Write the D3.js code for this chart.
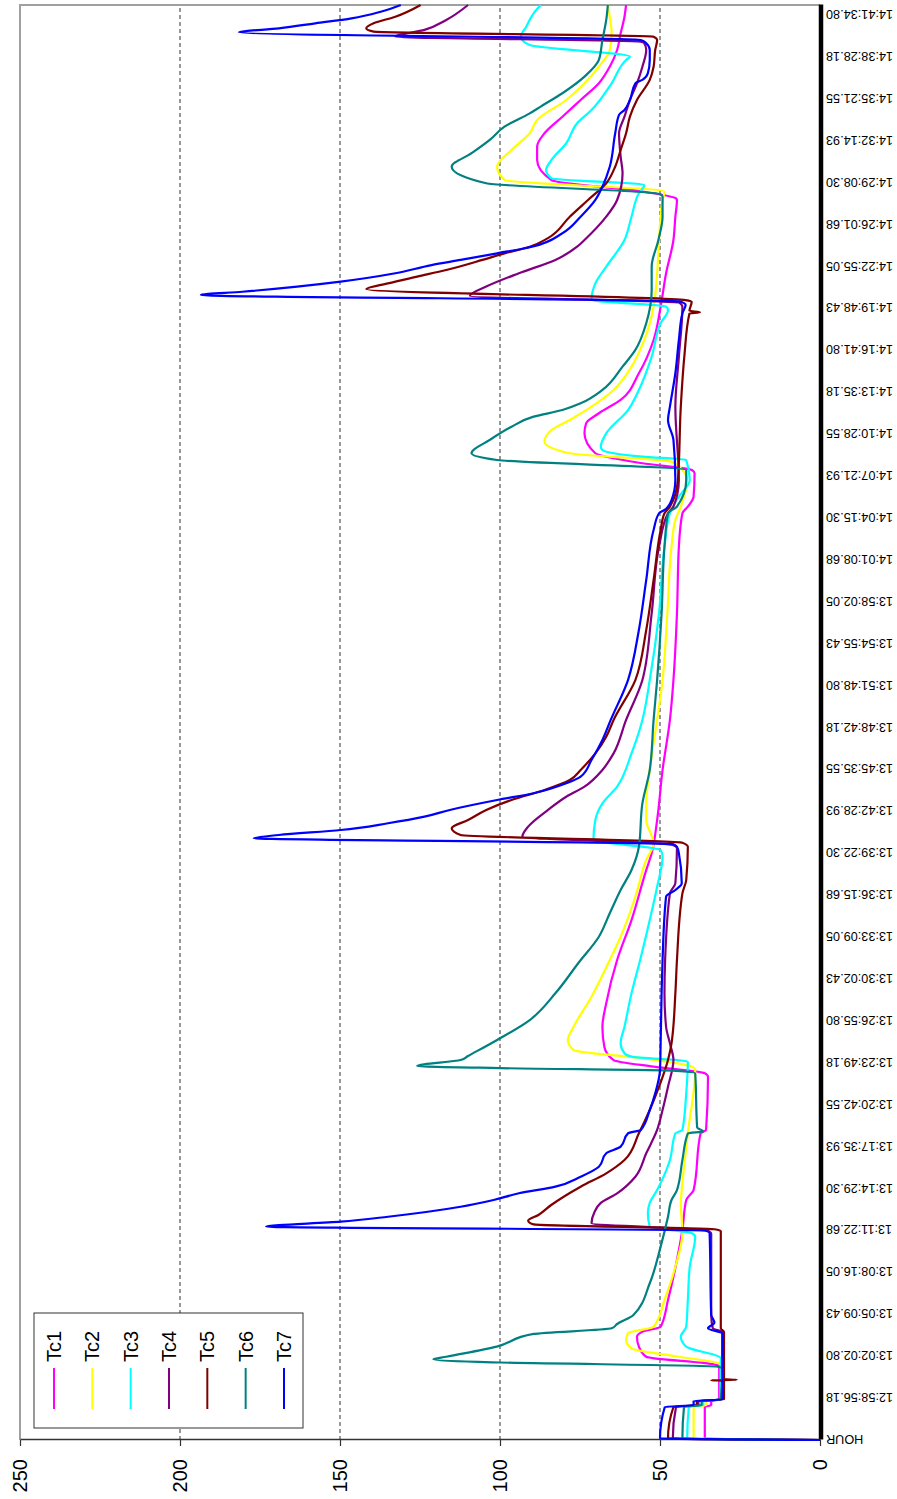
<!DOCTYPE html>
<html>
<head>
<meta charset="utf-8">
<script src="https://cdn.jsdelivr.net/npm/d3@7"></script>
<style>
  html, body { margin: 0; padding: 0; background: #fff; }
  svg { display: block; }
</style>
</head>
<body>
<svg id="chart" width="897" height="1499"></svg>
<script>
// Thermocouple log, temperatures vs. logger time.
// Times are elapsed minutes since the first log row ("HOUR" header row, read as 0).

const seriesNames = ["Tc1", "Tc2", "Tc3", "Tc4", "Tc5", "Tc6", "Tc7"];
const seriesColors = ["#ff00ff", "#ffff00", "#00ffff", "#800080", "#800000", "#008080", "#0000ff"];

const valueTicks = [0, 50, 100, 150, 200, 250];

const logStart = "12:55:49.555";
const timeLabels = [
  "HOUR", "12:58:56.18", "13:02:02.80", "13:05:09.43", "13:08:16.05", "13:11:22.68",
  "13:14:29.30", "13:17:35.93", "13:20:42.55", "13:23:49.18", "13:26:55.80",
  "13:30:02.43", "13:33:09.05", "13:36:15.68", "13:39:22.30", "13:42:28.93",
  "13:45:35.55", "13:48:42.18", "13:51:48.80", "13:54:55.43", "13:58:02.05",
  "14:01:08.68", "14:04:15.30", "14:07:21.93", "14:10:28.55", "14:13:35.18",
  "14:16:41.80", "14:19:48.43", "14:22:55.05", "14:26:01.68", "14:29:08.30",
  "14:32:14.93", "14:35:21.55", "14:38:28.18", "14:41:34.80"
];
const logEndMin = 106.5;

// [elapsed minutes, °C]
const tc1 = [[0,0],[0.12,36],[2.45,36],[2.6,34],[2.9,34],[3.0,31.5],[5.5,31.5],[5.6,33],[6.18,54.3],[6.93,56.6],[7.67,57.2],[8.04,55.5],[8.41,49.8],[10.39,47.5],[14.1,44.1],[15.59,43],[17.81,41.8],[18.55,39.5],[22.76,37.3],[23.01,35.6],[26.96,35],[27.22,36],[27.71,52],[28.2,64.5],[29.19,67.4],[30.67,68],[32.41,66.8],[35.62,63.4],[38.59,58.9],[42.3,54.3],[43.54,52.6],[46.01,50.9],[49.73,49.2],[53.44,46.9],[56.4,45.8],[61.35,44.7],[66.3,44.1],[68.78,43],[69.27,41.3],[70.01,39.5],[71.74,39.2],[71.99,40],[72.49,55.5],[73.23,70.2],[74.71,73.6],[75.45,73.1],[76.2,69.1],[77.19,62.3],[79.17,56.6],[81.64,52],[84.11,49.8],[86.59,48.1],[89.06,45.8],[90.79,45.2],[92.03,44.7],[92.15,45],[92.65,55.5],[93.51,83.9],[95,88.4],[95.99,88.4],[96.98,86.1],[98.21,80.5],[99.45,74.8],[100.69,69.1],[101.92,65.7],[103.16,63.4],[104.4,62.3],[105.63,61.1],[106.5,60.6]];

const tc2 = [[0,0],[0.12,39.5],[2.45,39.5],[2.6,35.5],[2.9,35.5],[3.0,31],[5.6,31],[5.69,31.6],[6.18,44.1],[6.8,58.9],[7.42,60.6],[7.92,60],[8.41,52],[10.39,48.6],[12.86,45.2],[15.34,43],[17.6,43.5],[18.55,43.2],[22.76,41.3],[27.46,39],[27.7,40],[28.33,55.5],[28.94,77],[29.69,78.8],[30.67,77],[32.9,71.4],[35.62,65.7],[37.35,62.3],[40.32,57.7],[43.05,54.3],[44.28,52],[46.01,54.3],[47.25,54.3],[49.73,53.2],[53.44,50.9],[56.4,49.2],[61.35,47.7],[66.3,46.4],[68.28,45.2],[69.27,43.5],[71.25,41.5],[71.99,43],[72.61,46.4],[73.23,78.2],[74.09,86.1],[74.96,83.9],[75.7,78.2],[76.69,71.4],[77.93,64.5],[79.66,58.9],[81.64,54.9],[84.11,52],[86.59,50.9],[89.06,50.3],[90.79,49.8],[92.03,49.2],[92.65,48.6],[93.51,98.6],[94.5,100.9],[95.74,96.4],[96.98,90.7],[97.97,88.4],[99.45,79.3],[100.69,73.6],[101.92,69.1],[103.16,65.7],[104.4,65.1],[105.63,65.7],[106.5,66.3]];

const tc3 = [[0,0],[0.12,41.5],[2.45,41],[2.6,36.5],[2.9,36.5],[3.0,31],[6.06,31],[6.93,41.8],[7.67,43.5],[8.41,41.8],[10.39,41.3],[12.86,40.7],[15.09,39],[15.34,40],[15.83,53.2],[16.82,53.8],[17.6,53.2],[18.55,50.9],[20.78,46.9],[22.76,45.2],[23.01,43],[25.73,41.8],[28.08,41.3],[28.45,58.9],[28.7,61.1],[29.44,62.3],[30.67,61.1],[33.15,58.9],[35.62,56.2],[38.59,53.2],[41.06,50.9],[43.29,49.2],[43.79,49.8],[44.53,70.8],[46.01,70.2],[47.25,68],[48.49,63.4],[50.96,58.9],[53.44,55.5],[56.4,53.2],[61.35,50.3],[66.3,48.6],[68.78,46.9],[70.01,44.1],[71.25,40.7],[72.73,41.8],[72.98,55.5],[73.48,68],[73.72,68.5],[74.71,66.8],[76.44,60],[77.93,56.6],[80.4,52.6],[82.88,49.8],[83.87,47.5],[84.11,48],[84.61,71.4],[85.84,70.2],[87.08,66.8],[89.06,61.1],[90.79,58.9],[92.53,56.6],[93.14,54.9],[93.64,83.9],[94.25,85.6],[95,83.9],[96.24,79.3],[97.72,75.9],[98.71,71.4],[100.69,65.1],[102.42,60.6],[102.67,59.4],[103.53,90.7],[104.15,93.5],[104.89,91.8],[105.88,89.5],[106.5,87.3]];

const tc4 = [[0,0],[0.12,46],[2.45,45],[2.6,38],[2.9,38],[3.0,30.5],[8.0,30.5],[8.3,33.5],[9.3,34],[15.3,34],[15.53,35],[16.08,71.4],[16.9,70.5],[17.6,68.5],[18.31,63.4],[19.54,57.7],[21.28,54.3],[23.01,50.9],[24.49,49.2],[26.22,47.5],[28.2,45.8],[29.44,46.9],[30.67,48.1],[33.15,48.6],[35.62,48.4],[40.57,46.9],[41.32,45.2],[43.92,44.7],[44.16,46],[44.78,93],[45.52,91.2],[46.76,85],[47.74,79.3],[48.49,73.6],[49.73,68],[50.96,64.5],[53.44,60.6],[56.4,55.5],[61.35,52.6],[66.3,50.3],[68.78,47.5],[69.27,45.8],[71.25,44.1],[76.69,45.2],[80.4,44.1],[84.11,43],[84.41,44],[84.9,109.4],[85.6,104.3],[86.59,94.1],[87.58,82.7],[88.56,75.9],[89.06,73.6],[90.79,66.8],[92.03,63.4],[94.01,61.7],[95.25,62.3],[96.98,62.8],[98.21,61.1],[99.45,59.4],[100.69,57.2],[101.92,55.5],[103.16,54.3],[103.66,54.9],[103.78,56],[104.15,132.7],[104.65,123.6],[105.39,116.8],[106.5,110]];

const tc5 = [[0,0],[0.12,47.5],[2.45,45.8],[2.6,38.5],[2.9,38.5],[3.0,30],[4.4,30],[4.43,34],[4.47,26],[4.5,30],[8.0,30],[8.3,31],[15.5,31],[15.64,33],[16.0,89.5],[16.28,91.2],[16.7,88],[17.44,84],[18.8,74.8],[19.79,66.8],[20.78,61.1],[22.76,56.6],[24.49,53.2],[26.22,50.3],[28.2,47.5],[29.44,46.4],[33.15,45.2],[35.62,44.7],[40.57,43],[41.56,41.8],[44.03,41.3],[44.33,43],[44.9,112.3],[45.4,115.1],[46.01,110],[46.76,104.3],[47.5,96.4],[48.24,86.1],[48.98,78.2],[49.73,74.8],[50.96,70.2],[52.2,66.8],[53.44,64.5],[56.4,57.7],[60.12,54.3],[63.83,52],[67.54,49.8],[68.78,48.6],[69.27,46.9],[71.25,44.4],[76.69,43.5],[80.4,42.4],[83.6,40.8],[83.7,37.5],[83.8,40.8],[84.48,40.1],[84.6,42],[85.4,141.8],[85.84,135],[86.34,125.9],[86.83,116.8],[87.58,105.5],[88.07,98.6],[88.56,90.7],[89.2,85],[90.79,78.2],[92.03,72.5],[93.27,66.8],[94.5,64],[95.74,62.3],[96.98,60.6],[98.21,59.4],[99.45,57.2],[100.94,53.2],[101.92,52],[103.16,51.5],[103.9,50.9],[104.15,52],[104.52,139.5],[104.77,141.8],[105.14,139.5],[105.63,132.7],[106.5,124.8]];

const tc6 = [[0,0],[0.12,43],[2.45,42.5],[2.6,37],[2.9,37],[3.0,31],[5.3,30.5],[5.45,32],[5.75,100],[5.99,120.8],[6.18,116.8],[6.93,101],[7.87,89.5],[8.29,65.1],[8.61,63.4],[9.28,58.3],[11.63,53.2],[14.35,49.8],[16.57,47.5],[17.81,46.4],[18.55,44.7],[20.78,43],[22.76,41.3],[22.9,36.5],[23.2,38.4],[27.22,39],[27.4,45],[27.6,100],[27.76,125.9],[28.2,112.3],[28.5,110],[29.69,100.9],[31.17,90.7],[33.15,82.7],[35.4,75.5],[37.35,69.1],[39.09,65.7],[40.82,62.3],[42.3,58.9],[44.03,56.6],[47.25,55.5],[49.73,53.2],[53.44,52],[56.4,50.9],[61.35,49.5],[66.3,48.6],[68.78,47.5],[69.27,44.7],[71.25,41.8],[71.99,41.8],[72.73,100.9],[73.23,108.9],[74.22,103.2],[75.2,96.4],[75.95,89.5],[76.44,80.5],[76.94,74.8],[77.93,68],[79.66,61.7],[80.9,57.7],[82.88,54.3],[85.35,52.6],[87.08,52.6],[89.06,50.5],[90.79,49.2],[92.28,49.2],[92.47,50],[93.27,104.3],[94.5,115.1],[95.5,108.9],[96.49,103.2],[97.47,98.6],[98.46,90.7],[98.96,87.3],[99.95,80.5],[101.18,73.6],[102.42,69.1],[103.9,68],[105.39,66.8],[106.5,66.3]];

const tc7 = [[0,0],[0.12,50],[2.45,48.5],[2.6,39.5],[2.9,39.5],[3.0,30.5],[7.9,30.5],[8.3,35],[8.7,33],[9.3,34],[15.35,34.5],[15.55,36],[15.83,173.1],[16.2,149.8],[16.57,135],[17.31,112.3],[17.81,102],[18.31,94.1],[18.8,82.7],[19.54,74.8],[20.28,69.1],[21.28,66.8],[21.77,62.3],[22.76,60],[23.01,56],[24.49,53.2],[25.73,51.5],[27.46,50],[29.44,49.8],[33.15,49.5],[35.62,49.2],[40.32,48.1],[40.82,45.2],[41.32,43.2],[43.54,44.1],[44.03,44.7],[44.23,46],[44.66,177],[44.9,169.1],[45.27,149.8],[45.77,135],[46.26,123.6],[46.76,115.7],[47.5,100.9],[48,89.5],[48.74,79.3],[49.23,74.8],[50.47,71.4],[51.95,68],[53.44,65.4],[56.4,60],[60.12,56.6],[63.83,54.3],[67.54,52],[68.78,50.3],[69.02,48.6],[69.76,46.4],[71.25,45.2],[74.22,45.8],[75.7,47.5],[76.69,46.9],[79.17,45.2],[81.64,44.1],[83.62,43],[84.24,42],[84.5,44],[84.98,193.5],[85.22,180.5],[85.6,163.4],[85.97,149.8],[86.59,132.7],[87.2,121.4],[87.58,112.3],[88.07,100.9],[88.56,90],[89.56,80.5],[90.79,74.8],[92.03,70.2],[93.02,68],[94.5,65.7],[96.98,64],[98.34,62.8],[98.71,61.1],[99.45,59.4],[100.69,57.7],[100.94,55.5],[101.43,53.8],[102.42,53.2],[103.16,53.2],[103.66,54.3],[103.9,56],[104.47,181.6],[104.77,169.1],[105.14,157.7],[105.51,146.4],[106,137.3],[106.5,131]];

const seriesData = [tc1, tc2, tc3, tc4, tc5, tc6, tc7];

// ---------------------------------------------------------------
// The chart is laid out as a normal time-on-x chart and the whole
// drawing is turned a quarter turn counter-clockwise onto the page.
const pageW = 897, pageH = 1499;
const plot = { left: 59, right: 1494, top: 20, bottom: 820 };

function clockSeconds(s) {
  const [h, m, sec] = s.split(":").map(Number);
  return h * 3600 + m * 60 + sec;
}
const startSec = clockSeconds(logStart);
const tickMinutes = timeLabels.map((lab, i) =>
  i === 0 ? 0 : (clockSeconds(lab) - startSec) / 60);

const x = d3.scaleLinear().domain([0, logEndMin]).range([plot.left, plot.right]);
const y = d3.scaleLinear().domain([0, 250]).range([plot.bottom, plot.top]);

const svg = d3.select("#chart");
svg.append("rect").attr("width", pageW).attr("height", pageH).attr("fill", "#fff");

const g = svg.append("g").attr("transform", `translate(0,${pageH}) rotate(-90)`);
const font = "'Liberation Sans', Arial, Helvetica, sans-serif";

// plot area border (top and right edges of the plot)
g.append("path")
  .attr("d", `M${plot.left},${plot.top}H${plot.right}V${plot.bottom}`)
  .attr("fill", "none").attr("stroke", "#a0a0a0").attr("stroke-width", 2);

// dashed gridlines
g.append("g").selectAll("line")
  .data(valueTicks.filter(v => v > 0 && v < 250))
  .join("line")
  .attr("x1", plot.left).attr("x2", plot.right)
  .attr("y1", d => y(d)).attr("y2", d => y(d))
  .attr("stroke", "#333").attr("stroke-width", 1)
  .attr("stroke-dasharray", "4,3");

// value axis
const yAxis = g.append("g")
  .attr("transform", `translate(${plot.left},0)`)
  .call(d3.axisLeft(y).tickValues(valueTicks).tickSize(6).tickSizeOuter(0).tickPadding(13));
yAxis.select(".domain").attr("stroke", "#333").attr("stroke-width", 1.5);
yAxis.selectAll(".tick line").attr("stroke", "#333").attr("stroke-width", 1.2);
yAxis.selectAll(".tick text")
  .attr("font-family", font).attr("font-size", 20).attr("fill", "#000");

// time axis
const xAxis = g.append("g")
  .attr("transform", `translate(0,${plot.bottom})`)
  .call(d3.axisBottom(x).tickValues(tickMinutes)
    .tickFormat((d, i) => timeLabels[i]).tickSize(0).tickSizeOuter(0));
xAxis.select(".domain").attr("stroke", "#000").attr("stroke-width", 4.5)
  .attr("transform", "translate(0,0.5)");
xAxis.selectAll(".tick text")
  .attr("font-family", font).attr("font-size", 12.7).attr("fill", "#000")
  .attr("x", 0).attr("y", 0).attr("dy", "0.35em")
  .attr("text-anchor", "end")
  .attr("transform", "translate(0,6) rotate(-90)");

// temperature lines
const line = d3.line()
  .x(d => x(d[0]))
  .y(d => y(d[1]))
  .curve(d3.curveMonotoneX);

g.append("g").selectAll("path")
  .data(seriesData)
  .join("path")
  .attr("d", line)
  .attr("fill", "none")
  .attr("stroke", (d, i) => seriesColors[i])
  .attr("stroke-width", 2.2)
  .attr("stroke-linejoin", "round");

// legend
const legend = g.append("g").attr("transform", "translate(71,34)");
legend.append("rect")
  .attr("width", 115).attr("height", 269)
  .attr("fill", "#fff").attr("stroke", "#333").attr("stroke-width", 1);
const item = legend.selectAll("g.item")
  .data(seriesNames)
  .join("g").attr("class", "item")
  .attr("transform", (d, i) => `translate(0,${20 + i * 38.33})`);
item.append("line")
  .attr("x1", 19).attr("x2", 60).attr("y1", 0).attr("y2", 0)
  .attr("stroke", (d, i) => seriesColors[i]).attr("stroke-width", 2);
item.append("text")
  .attr("x", 66).attr("y", 0).attr("dy", "0.35em")
  .attr("font-family", font).attr("font-size", 20).attr("fill", "#000")
  .text(d => d);
</script>
</body>
</html>
